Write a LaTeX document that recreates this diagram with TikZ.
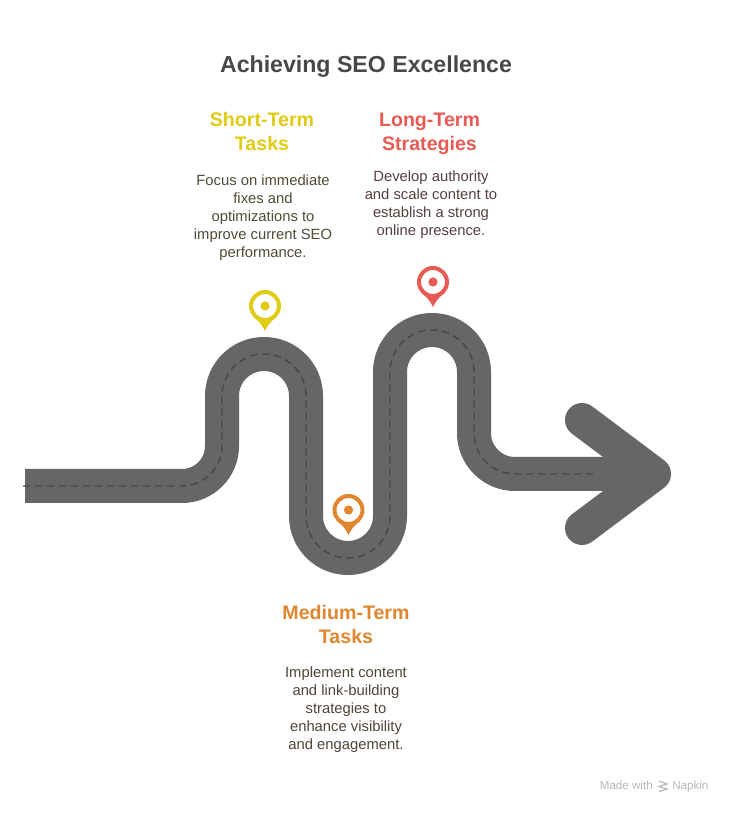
\documentclass[tikz,border=0pt]{standalone}
\usepackage{fontspec}
\setmainfont{Liberation Sans}
\definecolor{road}{HTML}{666666}
\definecolor{lane}{HTML}{484848}
\definecolor{ttl}{HTML}{484848}
\definecolor{yel}{HTML}{E0CB15}
\definecolor{org}{HTML}{E0862F}
\definecolor{rd}{HTML}{E85A54}
\definecolor{yelt}{HTML}{4F4B35}
\definecolor{orgt}{HTML}{4F4438}
\definecolor{rdt}{HTML}{554040}
\tikzset{
  x=0.75pt,y=0.75pt,
  heading/.style={align=center,font=\fontsize{14.7pt}{18pt}\selectfont\bfseries,inner sep=0pt,anchor=north},
  body/.style={align=center,font=\fontsize{11.1pt}{13.5pt}\selectfont,inner sep=0pt,anchor=north},
  roadline/.style={draw=road,line width=25.5pt},
  lanemark/.style={draw=lane,line width=1.1pt,dash pattern=on 5.4pt off 3.6pt},
  credit/.style={font=\fontsize{8.7pt}{10pt}\selectfont,text=black!28,inner sep=0pt},
}
\newcommand{\pinmark}[4]{% x, y(top coords flipped), colour, name
  \begin{scope}[shift={(#1,#2)}]
    \fill[#3] (-11.6,-11) .. controls (-5,-16) and (-3,-19) .. (0,-25) .. controls (3,-19) and (5,-16) .. (11.6,-11) -- cycle;
    \draw[#3,line width=3pt,fill=white] (0,0) circle (14);
    \fill[#3] (0,0) circle (4.6);
  \end{scope}
  \coordinate (#4) at (#1,#2);
}
\begin{document}
\begin{tikzpicture}
\useasboundingbox (0,0) rectangle (732,814);
\fill[white] (0,0) rectangle (732,814);
\coordinate (start) at (25,328);
\coordinate (tip) at (654,340);
\coordinate (barbT) at (582,394);
\coordinate (barbB) at (582,286);
\draw[roadline] (start) -- (182,328) arc (-90:0:40) -- (222,418) arc (180:0:42) -- (306,298) arc (180:360:42) -- (390,442) arc (180:0:42) -- (474,381) arc (180:270:41) -- (tip);
\draw[roadline,line cap=round,line join=round] (barbT) -- (tip) -- (barbB);
\draw[lanemark] (23,328) -- (182,328) arc (-90:0:40) -- (222,418) arc (180:0:42) -- (306,298) arc (180:360:42) -- (390,442) arc (180:0:42) -- (474,381) arc (180:270:41) -- (597,340);
\pinmark{265}{508}{yel}{pinA}
\pinmark{348.5}{304}{org}{pinB}
\pinmark{433}{532}{rd}{pinC}
\node[font=\fontsize{17.35pt}{22pt}\selectfont\bfseries,text=ttl,inner sep=0pt] (title) at (366,747) {Achieving SEO Excellence};
\node[heading,text=yel] (h1) at (262,701.5) {Short-Term\\Tasks};
\node[heading,text=rd] (h2) at (429.5,701) {Long-Term\\Strategies};
\node[heading,text=org] (h3) at (346,209) {Medium-Term\\Tasks};
\node[body,text=yelt] (b1) at (263,639) {Focus on immediate\\fixes and\\optimizations to\\improve current SEO\\performance.};
\node[body,text=rdt] (b2) at (431,643) {Develop authority\\and scale content to\\establish a strong\\online presence.};
\node[body,text=orgt] (b3) at (346,147) {Implement content\\and link-building\\strategies to\\enhance visibility\\and engagement.};
\node[credit,anchor=base east] (mw) at (653,24) {Made with};
\node[credit,anchor=base west] (nk) at (672,24) {Napkin};
\draw[black!28,line width=0.9pt] (659,33) -- (667,30) -- (659,27.5) -- (667,25) -- (659,22.5);
\end{tikzpicture}
\end{document}
